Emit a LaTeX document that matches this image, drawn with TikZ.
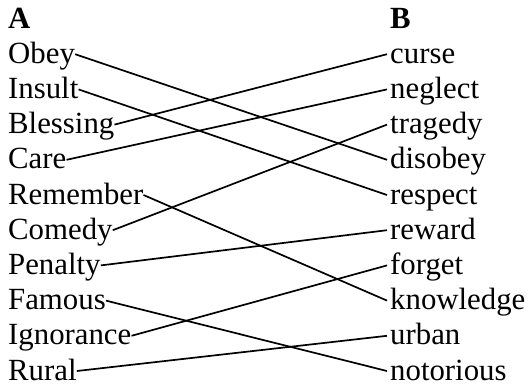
\documentclass[tikz,border=0pt]{standalone}
\usepackage{fontspec}
\setmainfont{Liberation Serif}
\begin{document}
\begin{tikzpicture}[x=1pt,y=-1pt,every node/.style={inner sep=0pt,font=\fontsize{30.8}{36}\selectfont},link/.style={line width=1.7pt,black}]
		\useasboundingbox (0,0) rectangle (532,389);
		\node[anchor=base west] (ha) at (8,28) {\textbf{A}};
		\node[anchor=base west] (hb) at (390,28) {\textbf{B}};
		\foreach \w [count=\i] in {Obey,Insult,Blessing,Care,Remember,Comedy,Penalty,Famous,Ignorance,Rural}
			\node[anchor=base west] (a\i) at (8,28+35.2*\i) {\w};
		\foreach \w [count=\i] in {curse,neglect,tragedy,disobey,respect,reward,forget,knowledge,urban,notorious}
			\node[anchor=base west] (b\i) at (390,28+35.2*\i) {\w};
		\foreach \i/\j in {1/4,2/5,3/1,4/2,5/8,6/3,7/6,8/10,9/7,10/9}
			\draw[link] ([xshift=0pt,yshift=9pt]a\i.base east)--([xshift=-3pt,yshift=9pt]b\j.base west);
		\end{tikzpicture}
\end{document}
